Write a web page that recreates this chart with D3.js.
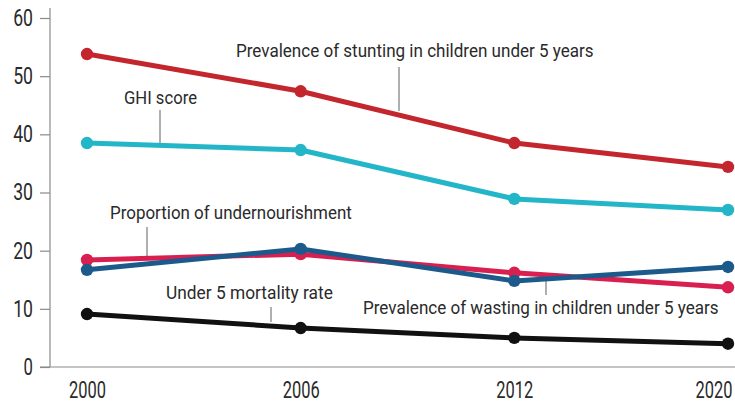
<!DOCTYPE html>
<html><head><meta charset="utf-8">
<script src="https://cdn.jsdelivr.net/npm/d3@7"></script>
<style>body{margin:0;background:#fff}svg{display:block}</style>
</head><body>
<svg id="c" width="735" height="408"></svg>
<script>
const years = ["2000","2006","2012","2020"];
const yTicks = [0,10,20,30,40,50,60];
const stunting = [53.8,47.4,38.5,34.4];
const ghi = [38.5,37.3,28.9,27.0];
const undernourishment = [18.4,19.4,16.2,13.7];
const wasting = [16.7,20.3,14.8,17.2];
const mortality = [9.1,6.7,5.0,4.0];

const series = [
  {name:"Prevalence of stunting in children under 5 years", values:stunting, color:"#c4262e",
   label:{x:236,y:56.5,w:358}, leader:{x:399,y1:67,y2:111}},
  {name:"GHI score", values:ghi, color:"#23b5c8",
   label:{x:124,y:103.5,w:73}, leader:{x:160,y1:110,y2:145}},
  {name:"Proportion of undernourishment", values:undernourishment, color:"#d91f50",
   label:{x:110,y:218.5,w:242}, leader:{x:147,y1:227,y2:256}},
  {name:"Prevalence of wasting in children under 5 years", values:wasting, color:"#1d5a8c",
   label:{x:363,y:313.5,w:356}, leader:{x:546,y1:277,y2:295}},
  {name:"Under 5 mortality rate", values:mortality, color:"#111111",
   label:{x:166,y:298.5,w:167}, leader:{x:271,y1:307,y2:322}}
];

const svg = d3.select("#c");
const x = d3.scalePoint().domain(years).range([87,728]);
const y = d3.scaleLinear().domain([0,60]).range([367,18]);
const font = "Roboto,'DejaVu Sans Condensed',sans-serif";
const digitW = 9.4;

function squeeze(sel, targetW, tx, ty){
  sel.each(function(d){
    const t = d3.select(this);
    const w = this.getComputedTextLength();
    const tw = typeof targetW === "function" ? targetW(d) : targetW;
    const sx = tw / w;
    const X = typeof tx === "function" ? tx(d) : tx;
    const Y = typeof ty === "function" ? ty(d) : ty;
    t.attr("x",0).attr("transform",`translate(${X},${Y}) scale(${sx},1)`);
  });
}

// Y axis
const yAxis = svg.append("g").attr("transform","translate(50,0)")
  .call(d3.axisLeft(y).tickValues(yTicks).tickSize(10).tickPadding(7));
yAxis.select(".domain").remove();
yAxis.selectAll(".tick line").attr("stroke","#8a8a8a").attr("stroke-width",1.2);
yAxis.selectAll(".tick text").attr("font-family",font).attr("font-size",23).attr("fill","#2a2a2a")
  .call(squeeze, d=>String(d).length*digitW+(String(d).length>1?1:0), -17, 0);
svg.append("line").attr("x1",50).attr("x2",50).attr("y1",8).attr("y2",367)
  .attr("stroke","#8a8a8a").attr("stroke-width",1.2);

// X axis
const xAxis = svg.append("g").attr("transform","translate(0,367)")
  .call(d3.axisBottom(x).tickSize(0).tickPadding(15));
xAxis.select(".domain").remove();
xAxis.selectAll(".tick text").attr("font-family",font).attr("font-size",23).attr("fill","#2a2a2a")
  .attr("text-anchor",(d,i)=>i===years.length-1?"end":"middle")
  .call(squeeze, 37, (d,i)=>d===years[years.length-1]?4:0, 0);
svg.append("line").attr("x1",40).attr("x2",735).attr("y1",367).attr("y2",367)
  .attr("stroke","#8a8a8a").attr("stroke-width",1.2);

// leaders & labels
series.forEach(s=>{
  svg.append("line").attr("x1",s.leader.x).attr("x2",s.leader.x)
    .attr("y1",s.leader.y1).attr("y2",s.leader.y2)
    .attr("stroke","#7a7a7a").attr("stroke-width",1.2);
  svg.append("text").attr("y",0)
    .attr("font-family",font).attr("font-size",18).attr("fill","#2a2a2a")
    .text(s.name)
    .call(squeeze, s.label.w, s.label.x, s.label.y);
});

// lines
const line = d3.line().x((d,i)=>x(years[i])).y(d=>y(d));
series.forEach(s=>{
  const g = svg.append("g");
  g.append("path").datum(s.values).attr("d",line).attr("fill","none")
    .attr("stroke",s.color).attr("stroke-width",5).attr("stroke-linejoin","round");
  g.selectAll("circle").data(s.values).join("circle")
    .attr("cx",(d,i)=>x(years[i])).attr("cy",d=>y(d)).attr("r",6.2).attr("fill",s.color);
});
</script>
</body></html>
